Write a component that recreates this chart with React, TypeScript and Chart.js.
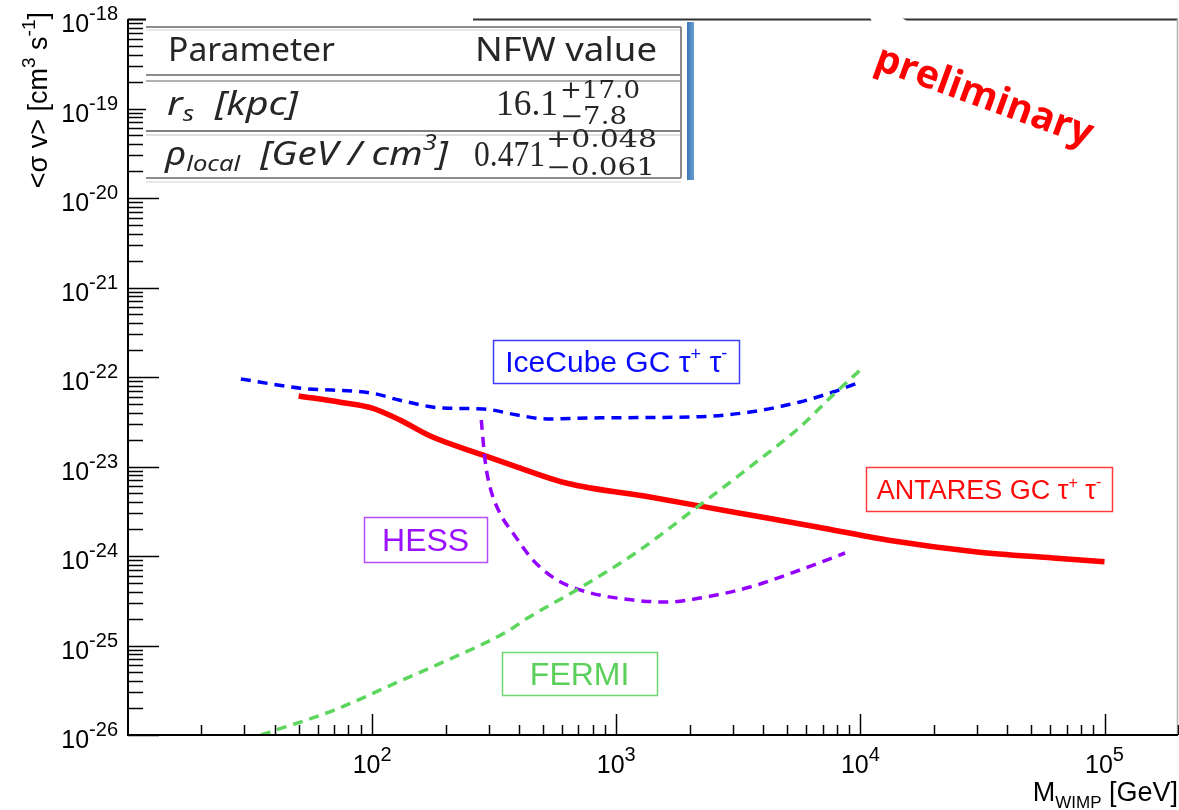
import React, { useEffect, useRef } from "react";
import { Chart, registerables } from "chart.js";

Chart.register(...registerables);

// ---------------- data ----------------
const antaresMass = [50, 75, 100, 130, 173, 285, 393, 628, 1374, 3006, 6650, 12860, 30060, 61540, 100000];
const antaresSigma = [6.14e-23, 5.2e-23, 4.5e-23, 3.31e-23, 2.19e-23, 1.34e-23, 9.86e-24, 6.5e-24, 4.56e-24, 3.1e-24, 2.11e-24, 1.51e-24, 1.11e-24, 9.5e-25, 8.6e-25];

const icecubeMass = [29, 51, 100, 130, 195, 285, 393, 521, 859, 2205, 3533, 5660, 7730, 10000];
const icecubeSigma = [9.5e-23, 7.5e-23, 6.6e-23, 5.5e-23, 4.5e-23, 4.4e-23, 3.76e-23, 3.4e-23, 3.5e-23, 3.6e-23, 4.06e-23, 5.26e-23, 6.8e-23, 8.8e-23];

const hessMass = [280, 290, 304, 334, 378, 456, 572, 759, 1171, 1614, 2205, 3533, 5660, 8650];
const hessSigma = [3.31e-23, 1.18e-23, 5.9e-24, 3.0e-24, 1.8e-24, 9.0e-25, 5.4e-25, 3.96e-25, 3.22e-25, 3.06e-25, 3.39e-25, 4.5e-25, 6.98e-25, 1.08e-24];

const fermiMass = [35, 70, 130, 190, 360, 430, 700, 1200, 2070, 3530, 5660, 7730, 10000];
const fermiSigma = [1e-26, 1.9e-26, 4.0e-26, 6.3e-26, 1.45e-25, 2.0e-25, 4.3e-25, 1.08e-24, 3.27e-24, 9.9e-24, 2.76e-23, 6.3e-23, 1.2e-22];

const xTickExponents = [2, 3, 4, 5];
const yTickExponents = [-18, -19, -20, -21, -22, -23, -24, -25, -26];

const xMin = 10;
const xMax = 2e5;
const yMin = 1e-26;
const yMax = 1e-18;

// annotation boxes (anchor in data coordinates)
const labelBoxes = [
  { text: "IceCube GC τ", tau: true, x: 1000, y: 1.49e-22, w: 246, h: 43, color: "#0a0aff", border: "#3c3cff", size: 30 },
  { text: "HESS", tau: false, x: 165.6, y: 1.53e-24, w: 123, h: 45, color: "#9a10ff", border: "#b44cff", size: 32 },
  { text: "FERMI", tau: false, x: 708, y: 4.86e-26, w: 155, h: 43, color: "#5ad05a", border: "#72d872", size: 32 },
  { text: "ANTARES GC τ", tau: true, x: 33650, y: 5.61e-24, w: 246, h: 44, color: "#ff0a0a", border: "#ff3c3c", size: 27 },
];

const SANS = "'Liberation Sans', Arial, Helvetica, sans-serif";
const TSANS = "'Noto Sans', 'DejaVu Sans', sans-serif";
const TSERIF = "'Liberation Serif', 'DejaVu Serif', serif";
const TSERIF2 = "'DejaVu Serif', 'Liberation Serif', serif";

type Part = { t: string; f: string; dy?: number };

function runsWidth(ctx: CanvasRenderingContext2D, parts: Part[]) {
  let w = 0;
  for (const p of parts) {
    ctx.font = p.f;
    w += ctx.measureText(p.t).width;
  }
  return w;
}

function drawRuns(ctx: CanvasRenderingContext2D, x: number, y: number, parts: Part[]) {
  let cx = x;
  for (const p of parts) {
    ctx.font = p.f;
    ctx.fillText(p.t, cx, y + (p.dy || 0));
    cx += ctx.measureText(p.t).width;
  }
  return cx;
}

// draw runs horizontally stretched to span [x1, x2]
function drawFit(ctx: CanvasRenderingContext2D, x1: number, x2: number, y: number, parts: Part[]) {
  const w = runsWidth(ctx, parts);
  ctx.save();
  ctx.translate(x1, y);
  ctx.scale((x2 - x1) / w, 1);
  drawRuns(ctx, 0, 0, parts);
  ctx.restore();
}

function line(ctx: CanvasRenderingContext2D, x1: number, y1: number, x2: number, y2: number) {
  ctx.beginPath();
  ctx.moveTo(x1, y1);
  ctx.lineTo(x2, y2);
  ctx.stroke();
}

function drawTable(ctx: CanvasRenderingContext2D) {
  ctx.save();
  ctx.fillStyle = "#ffffff";
  ctx.fillRect(146, 13, 327, 170);
  ctx.fillRect(473, 22, 214, 160);
  // blue side bar
  const g = ctx.createLinearGradient(687, 0, 694, 0);
  g.addColorStop(0, "#3d78b6");
  g.addColorStop(1, "#6a9ed2");
  ctx.fillStyle = g;
  ctx.fillRect(687, 22, 7, 158);

  // horizontal rules
  const rule = (y: number, w: number, c: string) => {
    ctx.strokeStyle = c;
    ctx.lineWidth = w;
    line(ctx, 146, y, 681, y);
  };
  rule(27, 2, "#8c8c8c");
  rule(30, 1, "#cfcfcf");
  rule(75, 2, "#8c8c8c");
  rule(81, 2, "#b0b0b0");
  rule(131, 2, "#808080");
  rule(135, 1, "#c0c0c0");
  rule(178, 2, "#8c8c8c");
  rule(182, 1, "#d0d0d0");
  ctx.strokeStyle = "#8a8a8a";
  ctx.lineWidth = 2;
  line(ctx, 681, 27, 681, 178);

  ctx.fillStyle = "#262626";
  ctx.textBaseline = "alphabetic";
  ctx.textAlign = "left";
  const big = `33px ${TSANS}`;
  const bigI = `italic 33px ${TSANS}`;
  const subI = `italic 22px ${TSANS}`;
  drawFit(ctx, 168, 335, 61, [{ t: "Parameter", f: big }]);
  drawFit(ctx, 475, 657, 61, [{ t: "NFW value", f: big }]);
  drawFit(ctx, 167, 298, 115, [
    { t: "r", f: bigI },
    { t: "s", f: subI, dy: 6 },
    { t: "  [kpc]", f: bigI },
  ]);
  drawFit(ctx, 165, 448, 165, [
    { t: "ρ", f: bigI },
    { t: "local", f: subI, dy: 6 },
    { t: "  [GeV / cm", f: bigI },
    { t: "3", f: subI, dy: -15 },
    { t: "]", f: bigI },
  ]);
  const num = `35px ${TSERIF}`;
  const small = `24px ${TSERIF2}`;
  drawFit(ctx, 496, 558, 115, [{ t: "16.1", f: num }]);
  drawFit(ctx, 560, 640, 98, [{ t: "+17.0", f: small }]);
  drawFit(ctx, 560, 627, 124, [{ t: "−7.8", f: small }]);
  drawFit(ctx, 474, 545, 166, [{ t: "0.471", f: num }]);
  drawFit(ctx, 546, 657, 147, [{ t: "+0.048", f: small }]);
  drawFit(ctx, 546, 655, 175, [{ t: "−0.061", f: small }]);
  ctx.restore();
}

const decorPlugin = {
  id: "decor",
  afterDraw(chart: any) {
    const ctx: CanvasRenderingContext2D = chart.ctx;
    const a = chart.chartArea;
    const xs = chart.scales.x;
    const ys = chart.scales.y;
    ctx.save();

    // frame
    ctx.strokeStyle = "#333";
    ctx.lineWidth = 2;
    line(ctx, a.left, a.top + 0.5, a.right, a.top + 0.5);
    ctx.strokeStyle = "#b0b0b0";
    ctx.lineWidth = 1.5;
    line(ctx, a.right - 0.5, a.top, a.right - 0.5, a.bottom);
    ctx.strokeStyle = "#000";
    ctx.lineWidth = 2;
    line(ctx, a.left, a.top, a.left, a.bottom + 1);
    line(ctx, a.left - 1, a.bottom, a.right, a.bottom);

    // ticks (inside frame)
    ctx.lineWidth = 1.5;
    ctx.strokeStyle = "#000";
    for (let e = -26; e <= -18; e++) {
      for (let m = 1; m <= 9; m++) {
        const v = Number(`${m}e${e}`);
        if (v > yMax * 1.0001) break;
        const py = Math.round(ys.getPixelForValue(v)) + 0.5;
        line(ctx, a.left, py, a.left + (m === 1 ? 31 : 15), py);
      }
    }
    for (let e = 1; e <= 5; e++) {
      for (let m = 1; m <= 9; m++) {
        const v = Number(`${m}e${e}`);
        if (v <= xMin * 1.0001 || v > xMax * 1.0001) continue;
        const px = Math.round(xs.getPixelForValue(v)) + 0.5;
        line(ctx, px, a.bottom, px, a.bottom - (m === 1 ? 21 : 10));
      }
    }

    // tick labels
    ctx.fillStyle = "#000";
    ctx.textAlign = "left";
    ctx.textBaseline = "alphabetic";
    const fBase = `25px ${SANS}`;
    const fExp = `20px ${SANS}`;
    for (const e of yTickExponents) {
      const py = ys.getPixelForValue(Number(`1e${e}`));
      const parts: Part[] = [
        { t: "10", f: fBase },
        { t: `-${-e}`, f: fExp, dy: -12 },
      ];
      const w = runsWidth(ctx, parts);
      drawRuns(ctx, 118 - w, py + 13, parts);
    }
    for (const e of xTickExponents) {
      const px = xs.getPixelForValue(Number(`1e${e}`));
      const parts: Part[] = [
        { t: "10", f: fBase },
        { t: `${e}`, f: fExp, dy: -12 },
      ];
      const w = runsWidth(ctx, parts);
      drawRuns(ctx, px - w / 2, a.bottom + 38, parts);
    }

    // x title
    const xt: Part[] = [
      { t: "M", f: `27px ${SANS}` },
      { t: "WIMP", f: `17px ${SANS}`, dy: 7 },
      { t: " [GeV]", f: `27px ${SANS}` },
    ];
    drawRuns(ctx, 1178 - runsWidth(ctx, xt), 801, xt);

    // y title
    const yt: Part[] = [
      { t: "<σ v> [cm", f: `27px ${SANS}` },
      { t: "3", f: `19px ${SANS}`, dy: -12 },
      { t: " s", f: `27px ${SANS}` },
      { t: "-1", f: `19px ${SANS}`, dy: -12 },
      { t: "]", f: `27px ${SANS}` },
    ];
    const yw = runsWidth(ctx, yt);
    ctx.save();
    ctx.translate(47, 12 + yw);
    ctx.rotate(-Math.PI / 2);
    drawRuns(ctx, 0, 0, yt);
    ctx.restore();

    // label boxes
    for (const b of labelBoxes) {
      const cx = xs.getPixelForValue(b.x);
      const cy = ys.getPixelForValue(b.y);
      const left = Math.round(cx - b.w / 2) + 0.5;
      const top = Math.round(cy - b.h / 2) + 0.5;
      ctx.fillStyle = "#fff";
      ctx.fillRect(left, top, b.w, b.h);
      ctx.strokeStyle = b.border;
      ctx.lineWidth = 1.5;
      ctx.strokeRect(left, top, b.w, b.h);
      ctx.fillStyle = b.color;
      const f = `${b.size}px ${SANS}`;
      const fs = `${Math.round(b.size * 0.6)}px ${SANS}`;
      const parts: Part[] = b.tau
        ? [
            { t: b.text, f },
            { t: "+", f: fs, dy: -b.size * 0.4 },
            { t: " τ", f },
            { t: "-", f: fs, dy: -b.size * 0.45 },
          ]
        : [{ t: b.text, f }];
      const w = runsWidth(ctx, parts);
      drawRuns(ctx, cx - w / 2, cy + b.size * 0.36, parts);
    }

    // inset table
    drawTable(ctx);

    // "preliminary" stamp
    ctx.fillStyle = "#fff";
    ctx.beginPath();
    ctx.moveTo(869, 16);
    ctx.lineTo(899, 16);
    ctx.lineTo(910, 23);
    ctx.lineTo(873, 23);
    ctx.closePath();
    ctx.fill();
    ctx.save();
    ctx.translate(984, 97);
    ctx.rotate((20 * Math.PI) / 180);
    ctx.fillStyle = "#ff0000";
    ctx.font = `bold 39px 'Open Sans', 'DejaVu Sans', sans-serif`;
    ctx.textAlign = "center";
    ctx.textBaseline = "middle";
    ctx.fillText("preliminary", 0, 0);
    ctx.restore();

    ctx.restore();
  },
};

function makeSeries(xsArr: number[], ysArr: number[]) {
  return xsArr.map((x, i) => ({ x, y: ysArr[i] }));
}

export default function App() {
  const ref = useRef<HTMLCanvasElement | null>(null);

  useEffect(() => {
    const canvas = ref.current;
    if (!canvas) return;
    const chart = new Chart(canvas, {
      type: "line",
      data: {
        datasets: [
          {
            label: "FERMI",
            data: makeSeries(fermiMass, fermiSigma),
            borderColor: "#5cd65c",
            borderWidth: 3.5,
            borderDash: [10, 7],
            cubicInterpolationMode: "monotone",
            pointRadius: 0,
            fill: false,
          },
          {
            label: "HESS",
            data: makeSeries(hessMass, hessSigma),
            borderColor: "#9400ff",
            borderWidth: 3.5,
            borderDash: [10, 7],
            cubicInterpolationMode: "monotone",
            pointRadius: 0,
            fill: false,
          },
          {
            label: "IceCube GC",
            data: makeSeries(icecubeMass, icecubeSigma),
            borderColor: "#0000ff",
            borderWidth: 3.5,
            borderDash: [10, 7],
            cubicInterpolationMode: "monotone",
            pointRadius: 0,
            fill: false,
          },
          {
            label: "ANTARES GC",
            data: makeSeries(antaresMass, antaresSigma),
            borderColor: "#ff0000",
            borderWidth: 5.5,
            cubicInterpolationMode: "monotone",
            pointRadius: 0,
            fill: false,
          },
        ],
      },
      options: {
        responsive: false,
        animation: false,
        devicePixelRatio: 1,
        layout: { padding: { top: 19, right: 1, left: 0, bottom: 0 } },
        plugins: {
          legend: { display: false },
          tooltip: { enabled: false },
        },
        scales: {
          x: {
            type: "logarithmic",
            min: xMin,
            max: xMax,
            ticks: { display: false },
            grid: { display: false },
            border: { display: false },
            afterFit: (s: any) => {
              s.height = 75;
            },
          },
          y: {
            type: "logarithmic",
            min: yMin,
            max: yMax,
            ticks: { display: false },
            grid: { display: false },
            border: { display: false },
            afterFit: (s: any) => {
              s.width = 128;
            },
          },
        },
      } as any,
      plugins: [decorPlugin],
    });
    return () => chart.destroy();
  }, []);

  return (
    <div style={{ position: "fixed", left: 0, top: 0, width: 1179, height: 810, background: "#fff" }}>
      <canvas ref={ref} width={1179} height={810} style={{ display: "block", width: 1179, height: 810 }} />
    </div>
  );
}
